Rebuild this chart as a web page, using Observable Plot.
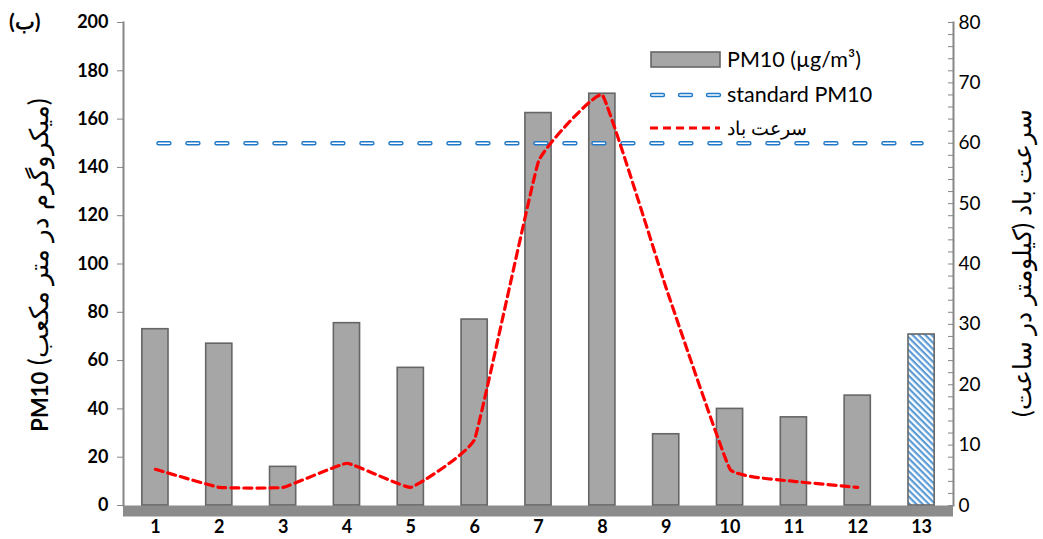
<!DOCTYPE html>
<html><head><meta charset="utf-8">
<script src="https://cdn.jsdelivr.net/npm/d3@7"></script>
<script src="https://cdn.jsdelivr.net/npm/@observablehq/plot@0.6"></script>
<style>body{margin:0;background:#fff;} svg{display:block}</style>
</head><body><div id="chart"></div>
<script>
// ---- data ----
const categories = [1,2,3,4,5,6,7,8,9,10,11,12,13];
const pm10 = [73, 67, 16, 75.5, 57, 77, 162.5, 170.5, 29.5, 40, 36.5, 45.5, 70.8];
const windSpeed = [6, 3, 3, 7, 3, 11, 57, 68, 36, 6, 4, 3]; // km/h, categories 1..12
const standardPM10 = 150;
const pmTicks = [0,20,40,60,80,100,120,140,160,180,200];
const windTicks = [0,10,20,30,40,50,60,70,80];
const windMinorTicks = d3.range(0, 81, 2);
const windFactor = 200 / 80; // right axis 0-80 maps onto left 0-200

const labelPanel = "(ب)";
const legendLabels = ["PM10 (µg/m³)", "standard PM10", "سرعت باد"];
const leftTitleBold = "PM10";
const leftTitleRest = " (میکروگرم در متر مکعب)";
const rightTitle = "سرعت باد (کیلومتر در ساعت)";

const barRows = categories.map((c,i)=>({cat:c, pm:pm10[i]}));
const windRows = windSpeed.map((w,i)=>({cat:categories[i], v:w*windFactor}));
const stdRows = categories.map(c=>({cat:c, v:standardPM10}));

const font = "Lato, 'Open Sans', sans-serif";
const grayAxis = "#868686";

const plot = Plot.plot({
  width:1043, height:539,
  marginLeft:123, marginRight:90, marginTop:22, marginBottom:34,
  style:{fontFamily:font, background:"white", color:"black"},
  x:{type:"band", domain:categories, paddingInner:0.59, paddingOuter:0.295, round:false},
  y:{domain:[0,200]},
  marks:[
    Plot.ruleY([-2.3], {stroke:"#8c8c8c", strokeWidth:11}),
    Plot.barY(barRows.filter(d=>d.cat!==13), {x:"cat", y:"pm", fill:"#a6a6a6", stroke:"#666666", strokeWidth:1.6}),
    Plot.barY(barRows.filter(d=>d.cat===13), {x:"cat", y:"pm", fill:"url(#hatch13)", stroke:"#666666", strokeWidth:1.6}),
    Plot.line(stdRows, {x:"cat", y:"v", stroke:"#1f78c8", strokeWidth:4.4, strokeLinecap:"round", strokeDasharray:"11,18", strokeDashoffset:-3}),
    Plot.line(stdRows, {x:"cat", y:"v", stroke:"white", strokeWidth:1.6, strokeLinecap:"round", strokeDasharray:"11,18", strokeDashoffset:-3}),
    Plot.line(windRows, {x:"cat", y:"v", curve:"cardinal", tension:0.75, stroke:"#ff0000", strokeWidth:3.2, strokeDasharray:"8,5"}),
    Plot.frame({anchor:"left", stroke:grayAxis, strokeWidth:2}),
    Plot.frame({anchor:"right", stroke:grayAxis, strokeWidth:2}),
    Plot.axisY(pmTicks, {anchor:"left", tickSize:6, tickPadding:9, stroke:grayAxis, fill:"black", fontWeight:"bold", fontSize:18, label:null}),
    Plot.axisY(windMinorTicks.map(v=>v*windFactor), {anchor:"right", tickSize:-6, tickFormat:()=>"", stroke:grayAxis, label:null}),
    Plot.axisY(windTicks.map(v=>v*windFactor), {anchor:"right", tickSize:0, tickPadding:5, tickFormat:d=>String(Math.round(d/windFactor)), fill:"black", fontSize:19, label:null}),
    Plot.axisX({tickSize:0, tickPadding:15, fontWeight:"bold", fontSize:18, fill:"black", label:null})
  ]
});

const svg = d3.select(plot);
// hatch pattern for bar 13
const defs = svg.insert("defs", ":first-child");
const pat = defs.append("pattern").attr("id","hatch13").attr("patternUnits","userSpaceOnUse")
  .attr("width",4.5).attr("height",4.5).attr("patternTransform","rotate(45)");
pat.append("rect").attr("width",4.5).attr("height",4.5).attr("fill","white");
pat.append("rect").attr("width",4.5).attr("height",2.2).attr("fill","#5b9bd5");

// panel label
svg.append("text").attr("x",9).attr("y",29).attr("text-anchor","start").attr("font-family",font).attr("font-size",21)
  .attr("font-weight","bold").attr("direction","ltr").text(labelPanel);

// axis titles
const lt = svg.append("text").attr("transform","translate(48,265) rotate(-90)")
  .attr("text-anchor","middle").attr("font-family",font).attr("font-size",26);
lt.append("tspan").attr("font-weight","bold").attr("font-size",22).text(leftTitleBold);
lt.append("tspan").text(leftTitleRest);
svg.append("text").attr("transform","translate(1022,263) rotate(-90)")
  .attr("text-anchor","middle").attr("direction","rtl").attr("dy","0.35em")
  .attr("font-family",font).attr("font-size",25).text(rightTitle);

// legend
const lg = svg.append("g").attr("font-family",font).attr("font-size",21.5).attr("text-anchor","start");
lg.append("rect").attr("x",651).attr("y",52).attr("width",69).attr("height",15)
  .attr("fill","#a6a6a6").attr("stroke","#666666").attr("stroke-width",1.6);
lg.append("line").attr("x1",652).attr("x2",720).attr("y1",95).attr("y2",95)
  .attr("stroke","#1f78c8").attr("stroke-width",4.4).attr("stroke-linecap","round").attr("stroke-dasharray","11,17");
lg.append("line").attr("x1",652).attr("x2",720).attr("y1",95).attr("y2",95)
  .attr("stroke","white").attr("stroke-width",1.6).attr("stroke-linecap","round").attr("stroke-dasharray","11,17");
lg.append("line").attr("x1",650).attr("x2",720).attr("y1",128).attr("y2",128)
  .attr("stroke","#ff0000").attr("stroke-width",3.2).attr("stroke-dasharray","8,5");
[67,102,135].forEach((y,i)=>{
  lg.append("text").attr("x",727).attr("y",y).attr("font-size", i===2 ? 19 : null).text(legendLabels[i]);
});

document.getElementById("chart").appendChild(plot);
</script>
</body></html>
